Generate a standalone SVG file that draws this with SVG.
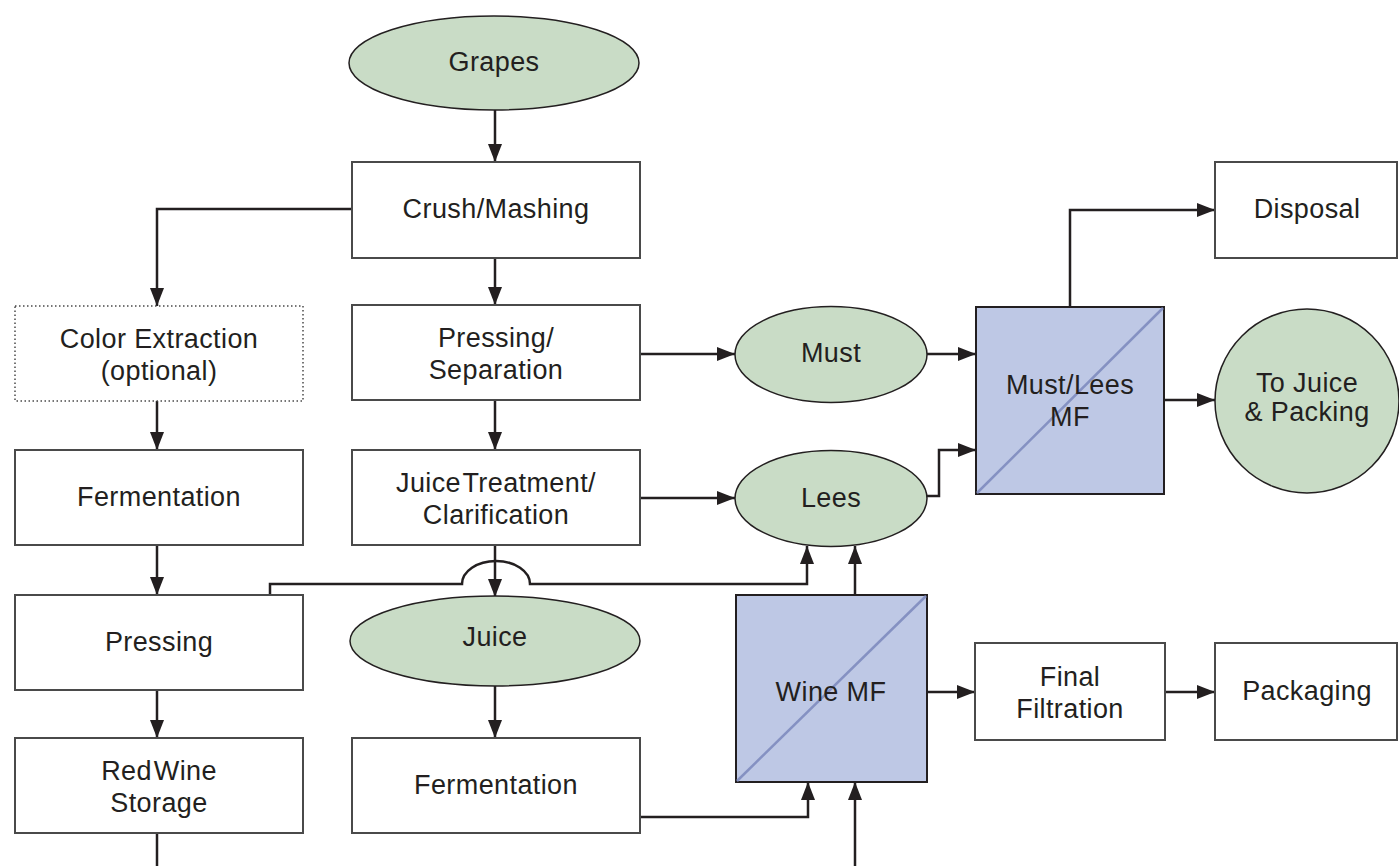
<svg xmlns="http://www.w3.org/2000/svg" width="1399" height="866" viewBox="0 0 1399 866">
<style>
.box{fill:#fff;stroke:#4a4a4a;stroke-width:2}
.dot{fill:#fff;stroke:#4a4a4a;stroke-width:1.5;stroke-dasharray:1.5 2.5}
.ell{fill:#c9dcc6;stroke:#231f20;stroke-width:1.5}
.mf{fill:#bec8e5;stroke:#231f20;stroke-width:2}
.diag{stroke:#8591c2;stroke-width:2.5}
.t{font-family:"Liberation Sans",Arial,sans-serif;font-size:27px;letter-spacing:0.4px;fill:#231f20;text-anchor:middle}
.c{fill:none;stroke:#231f20;stroke-width:2.5}
.a{marker-end:url(#ah)}
</style>
<defs>
<marker id="ah" markerUnits="userSpaceOnUse" markerWidth="19" markerHeight="14" refX="18" refY="7" orient="auto">
<path d="M0,0 L18,7 L0,14 Z" fill="#231f20"/>
</marker>
</defs>
<g id="connectors">
<path class="c a" d="M495,110 V162"/>
<path class="c a" d="M495,258 V305"/>
<path class="c a" d="M495,400 V450"/>
<path class="c a" d="M495,545 V597"/>
<path class="c a" d="M495,686 V738"/>
<path class="c a" d="M352,209 H157 V306"/>
<path class="c a" d="M157,401 V450"/>
<path class="c a" d="M157,545 V595"/>
<path class="c a" d="M157,690 V738"/>
<path class="c" d="M157,833 V866"/>
<path class="c a" d="M640,354 H735"/>
<path class="c a" d="M640,498 H735"/>
<path class="c a" d="M927,354 H976"/>
<path class="c a" d="M926,496 H939 V450 H976"/>
<path class="c a" d="M1070,307 V210 H1215"/>
<path class="c a" d="M1164,400 H1215"/>
<path class="c a" d="M270,595 V584 H462 A34 23 0 0 1 530,584 H807 V546"/>
<path class="c a" d="M855,595 V546"/>
<path class="c a" d="M640,817 H808 V782"/>
<path class="c a" d="M855,866 V782"/>
<path class="c a" d="M927,692 H975"/>
<path class="c a" d="M1165,692 H1215"/>
</g>
<g id="grapes"><ellipse class="ell" cx="494" cy="63" rx="145" ry="47"/><text class="t" x="494" y="71">Grapes</text></g>
<g id="crush"><rect class="box" x="352" y="162" width="288" height="96"/><text class="t" x="496" y="218">Crush/Mashing</text></g>
<g id="pressing-separation"><rect class="box" x="352" y="305" width="288" height="95"/><text class="t" x="496" y="347">Pressing/</text><text class="t" x="496" y="379">Separation</text></g>
<g id="juice-treatment"><rect class="box" x="352" y="450" width="288" height="95"/><text class="t" x="496" y="492" word-spacing="-6">Juice Treatment/</text><text class="t" x="496" y="524">Clarification</text></g>
<g id="juice"><ellipse class="ell" cx="495" cy="641" rx="145" ry="45"/><text class="t" x="495" y="646">Juice</text></g>
<g id="fermentation-white"><rect class="box" x="352" y="738" width="288" height="95"/><text class="t" x="496" y="794">Fermentation</text></g>
<g id="color-extraction"><rect class="dot" x="15" y="306" width="288" height="95"/><text class="t" x="159" y="348">Color Extraction</text><text class="t" x="159" y="380">(optional)</text></g>
<g id="fermentation-red"><rect class="box" x="15" y="450" width="288" height="95"/><text class="t" x="159" y="506">Fermentation</text></g>
<g id="pressing"><rect class="box" x="15" y="595" width="288" height="95"/><text class="t" x="159" y="651">Pressing</text></g>
<g id="red-wine-storage"><rect class="box" x="15" y="738" width="288" height="95"/><text class="t" x="159" y="780" word-spacing="-6">Red Wine</text><text class="t" x="159" y="812">Storage</text></g>
<g id="must"><ellipse class="ell" cx="831" cy="354.5" rx="96" ry="48"/><text class="t" x="831" y="362">Must</text></g>
<g id="lees"><ellipse class="ell" cx="831" cy="498.5" rx="96" ry="48"/><text class="t" x="831" y="507">Lees</text></g>
<g id="must-lees-mf"><rect class="mf" x="976" y="307" width="188" height="187"/><line class="diag" x1="977" y1="493" x2="1163" y2="308"/><text class="t" x="1070" y="394">Must/Lees</text><text class="t" x="1070" y="426">MF</text></g>
<g id="wine-mf"><rect class="mf" x="736" y="595" width="191" height="187"/><line class="diag" x1="737" y1="781" x2="926" y2="596"/><text class="t" x="831" y="701">Wine MF</text></g>
<g id="disposal"><rect class="box" x="1215" y="162" width="182" height="96"/><text class="t" x="1307" y="218">Disposal</text></g>
<g id="to-juice-packing"><circle class="ell" cx="1307" cy="401" r="92"/><text class="t" x="1307" y="392">To Juice</text><text class="t" x="1307" y="421">&amp; Packing</text></g>
<g id="final-filtration"><rect class="box" x="975" y="643" width="190" height="97"/><text class="t" x="1070" y="686">Final</text><text class="t" x="1070" y="718">Filtration</text></g>
<g id="packaging"><rect class="box" x="1215" y="643" width="182" height="97"/><text class="t" x="1307" y="700">Packaging</text></g>
</svg>
